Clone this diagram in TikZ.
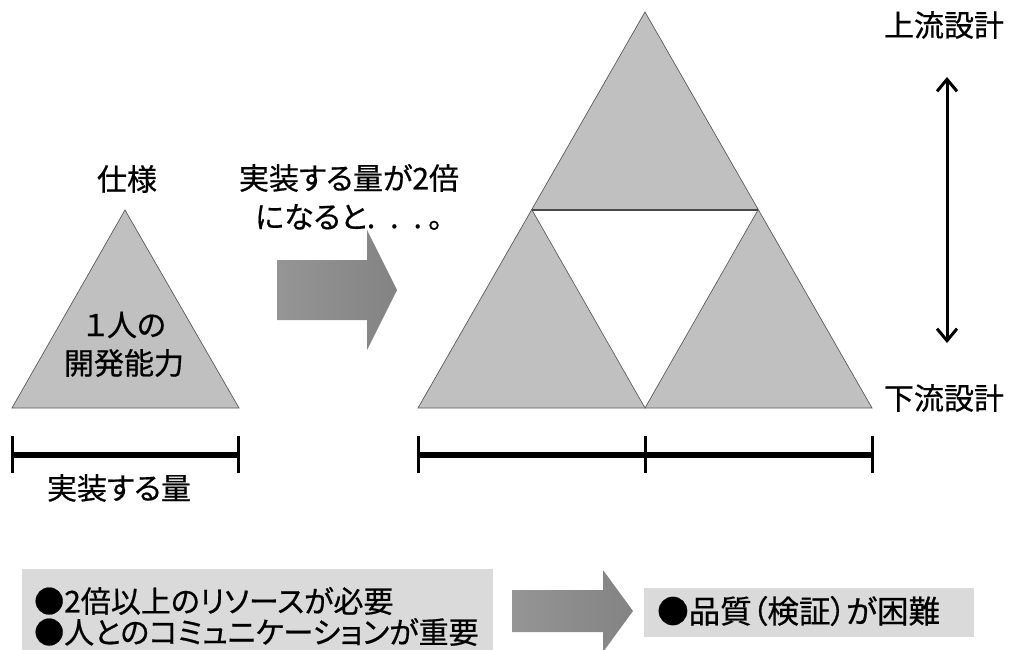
\documentclass[tikz,border=0pt]{standalone}
\usepackage{fontspec}
\setmainfont{Noto Sans CJK JP}[RawFeature=+palt, FakeBold=0.6]
\usetikzlibrary{arrows.meta}
\definecolor{trifill}{HTML}{C0C0C0}
\definecolor{triline}{HTML}{5A5A5A}
\definecolor{boxfill}{HTML}{DADADA}
\definecolor{arrL}{HTML}{959595}
\definecolor{arrM}{HTML}{B8B8B8}
\definecolor{arrR}{HTML}{838383}
\tikzset{
  tri/.style={fill=trifill, draw=triline, line width=0.7pt, line join=miter},
  lbl/.style={inner sep=0pt, font=\fontsize{30}{35}\selectfont},
  boxtxt/.style={inner sep=0pt, anchor=west, font=\fontsize{30}{35}\selectfont},
  bar/.style={line width=6pt},
  tick/.style={line width=3pt},
  fatarrow/.style={left color=arrL, middle color=arrM, right color=arrR, draw=none},
}
\begin{document}
\begin{tikzpicture}[x=1pt,y=-1pt]
\useasboundingbox (0,0) rectangle (1009,650);
% ---- small triangle
\coordinate (sa) at (125,210);
\coordinate (sb) at (12,408);
\coordinate (sc) at (239,408);
\path[tri] (sa) -- (sb) -- (sc) -- cycle;
\node[lbl] (spec) at (127,179) {仕様};
\node[lbl] (one) at (125,325) {１人の};
\node[lbl] (abil) at (124,363) {開発能力};
% bar below small triangle
\coordinate (sbl) at (12,455);
\coordinate (sbr) at (238,455);
\draw[bar] (sbl) -- (sbr);
\draw[tick] (12,436) -- (12,473);
\draw[tick] (238,436) -- (238,473);
\node[lbl] (amount) at (119,488) {実装する量};
% ---- top gradient arrow
\shade[fatarrow] (277,260) -- (367,260) -- (367,230) -- (397,290) -- (367,350) -- (367,320) -- (277,320) -- cycle;
\node[lbl] (dbl1) at (349,178) {実装する量が2倍};
\node[lbl, anchor=west] (dbl2) at (255,217) {になると.\hspace{15pt}.\hspace{15pt}.\hspace{6pt}。};
% ---- big triangle
\coordinate (ba) at (645,12);
\coordinate (bl) at (418,408);
\coordinate (br) at (872,408);
\coordinate (ml) at (532,210);
\coordinate (mr) at (758,210);
\coordinate (bm) at (645,408);
\path[tri] (ba) -- (bl) -- (br) -- cycle;
\path[fill=white, draw=triline, line width=0.7pt] (ml) -- (mr) -- (bm) -- cycle;
\draw[triline!80!black, line width=1.6pt] (ml) -- (mr);
% bar below big triangle
\coordinate (bbl) at (418,455);
\coordinate (bbr) at (872,455);
\draw[bar] (bbl) -- (bbr);
\draw[tick] (418,436) -- (418,473);
\draw[tick] (645,436) -- (645,473);
\draw[tick] (872,436) -- (872,473);
% ---- vertical arrow and labels
\node[lbl] (up) at (944,25) {上流設計};
\node[lbl] (down) at (944,398) {下流設計};
\coordinate (vtop) at (947,77);
\coordinate (vbot) at (947,343);
\draw[line width=3pt, {Straight Barb[length=12pt,width=20pt]}-{Straight Barb[length=12pt,width=20pt]}] (vtop) -- (vbot);
% ---- bottom boxes
\path[fill=boxfill] (22,569) rectangle (493,652);
\node[boxtxt] (need) at (34,601) {●2倍以上のリソースが必要};
\node[boxtxt] (comm) at (34,632) {●人とのコミュニケーションが重要};
\shade[fatarrow] (512,590) -- (603,590) -- (603,570) -- (633,611) -- (603,652) -- (603,632) -- (512,632) -- cycle;
\path[fill=boxfill] (644,588) rectangle (974,637);
\node[boxtxt, font=\fontsize{31.5}{36}\selectfont] (qual) at (657,611) {●品質（検証）が困難};
\end{tikzpicture}
\end{document}
